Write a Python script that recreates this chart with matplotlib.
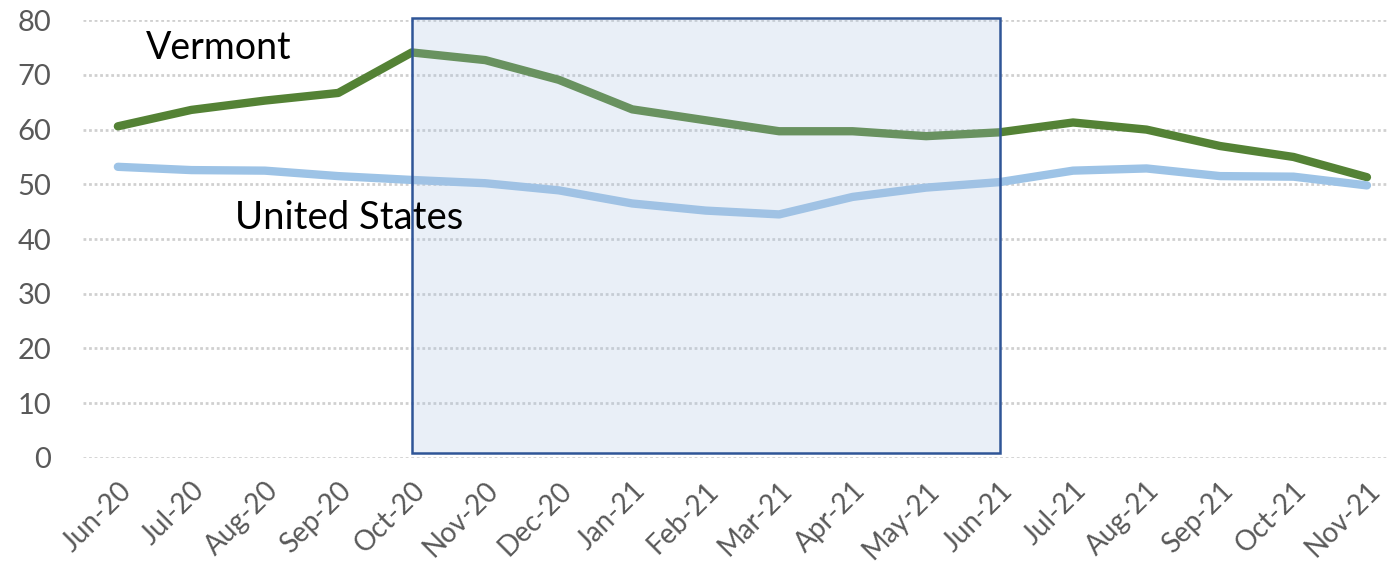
import matplotlib.pyplot as plt
from matplotlib.patches import Rectangle

months = ['Jun-20', 'Jul-20', 'Aug-20', 'Sep-20', 'Oct-20', 'Nov-20', 'Dec-20',
          'Jan-21', 'Feb-21', 'Mar-21', 'Apr-21', 'May-21', 'Jun-21', 'Jul-21',
          'Aug-21', 'Sep-21', 'Oct-21', 'Nov-21']
vermont = [60.6, 63.6, 65.3, 66.7, 74.1, 72.7, 69.1, 63.7, 61.7, 59.7, 59.7,
           58.8, 59.5, 61.3, 60.0, 57.0, 55.0, 51.3]
us = [53.2, 52.6, 52.5, 51.5, 50.8, 50.2, 48.9, 46.5, 45.2, 44.5, 47.7, 49.4,
      50.4, 52.5, 52.9, 51.5, 51.4, 49.8]
# shaded period: Oct-20 to Jun-21
shade_start, shade_end = 'Oct-20', 'Jun-21'

plt.rcParams['font.family'] = ['Lato', 'DejaVu Sans']

fig = plt.figure(figsize=(13.89, 5.76), dpi=100)
ax = fig.add_axes([0.06, 0.205, 0.94, 0.76])

x = list(range(len(months)))
ax.plot(x, vermont, color='#548235', lw=6, solid_capstyle='round', zorder=3)
ax.plot(x, us, color='#9DC3E6', lw=6, solid_capstyle='round', zorder=3)

x0 = months.index(shade_start)
x1 = months.index(shade_end)
ax.add_patch(Rectangle((x0, 0.9), x1 - x0, 79.5, facecolor='#A9C2E2', alpha=0.25,
                       edgecolor='none', zorder=4, clip_on=False))
ax.add_patch(Rectangle((x0, 0.9), x1 - x0, 79.5, facecolor='none',
                       edgecolor='#2F5597', lw=1.8, zorder=4, clip_on=False))

ax.text(0.38, 75, 'Vermont', fontsize=27, va='center', ha='left', color='black', zorder=5)
ax.text(1.6, 43.8, 'United States', fontsize=27.5, va='center', ha='left', color='black', zorder=5)

ax.set_xlim(-0.47, 17.3)
ax.set_ylim(0, 80)
ax.set_yticks(range(0, 81, 10))
ax.set_xticks(x)
ax.set_xticklabels(months, rotation=45, ha='right', rotation_mode='anchor')
ax.tick_params(axis='both', length=0, labelsize=20, colors='#595959')
ax.tick_params(axis='y', labelsize=21, pad=23)
ax.tick_params(axis='x', pad=14)
ax.grid(axis='y', color='#D0D0D0', lw=2, ls=(0, (1, 1)))
ax.set_axisbelow(True)
for s in ax.spines.values():
    s.set_visible(False)

fig.savefig('out.png', dpi=100)
